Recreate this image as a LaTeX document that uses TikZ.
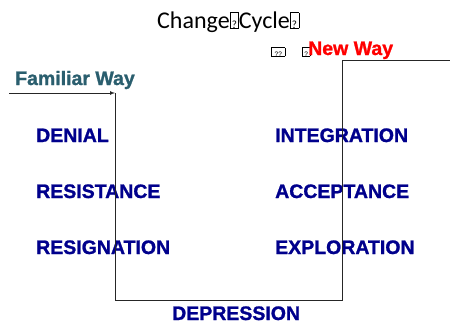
\documentclass[tikz,border=0pt]{standalone}
\usepackage{fontspec}
\setmainfont{Liberation Sans}
\newfontfamily\titlefont{Carlito}
\newfontfamily\heavyfont{Liberation Sans Bold}[FakeBold=1.2]
\definecolor{stagenavy}{RGB}{0,0,140}
\definecolor{oldteal}{RGB}{42,94,110}
\newcommand{\qmark}[4][?]{{\setlength{\fboxsep}{0pt}\setlength{\fboxrule}{0.6pt}\fbox{\makebox[#2]{\rule{0pt}{#3}\fontsize{#4}{#4}\selectfont #1}}}}
\tikzset{
  stage/.style={anchor=base west,inner sep=0pt,text=stagenavy,font=\heavyfont\fontsize{19.5}{22}\selectfont},
  way/.style={anchor=base west,inner sep=0pt,font=\heavyfont\fontsize{19.5}{22}\selectfont}
}
\begin{document}
\begin{tikzpicture}[x=1pt,y=-1pt,>=latex]
	\useasboundingbox (0,0) rectangle (450,324);
	\node[anchor=base west,inner sep=0pt,font=\titlefont\fontsize{24}{28}\selectfont] (title) at (157,28) {Change\qmark{8pt}{15pt}{11pt}Cycle\qmark{8pt}{15pt}{11pt}};
	\node[way,text=oldteal] (familiar) at (15,85) {Familiar Way};
	\node[anchor=base west,inner sep=0pt] (marks) at (271,56) {\qmark[??]{13pt}{8pt}{6.5pt}};
	\node[anchor=base west,inner sep=0pt] (mark) at (302,56) {\qmark{7pt}{8pt}{6.5pt}};
	\node[way,text=red] (newway) at (308,55) {New Way};
	\node[stage] (denial) at (36,142) {DENIAL};
	\node[stage] (resistance) at (36,198) {RESISTANCE};
	\node[stage] (resignation) at (36,254) {RESIGNATION};
	\node[stage] (integration) at (275,142) {INTEGRATION};
	\node[stage] (acceptance) at (275,198) {ACCEPTANCE};
	\node[stage] (exploration) at (275,254) {EXPLORATION};
	\node[stage] (depression) at (172,320) {DEPRESSION};
	\coordinate (start) at (9,93);
	\coordinate (drop) at (115,93);
	\coordinate (low) at (115,300);
	\coordinate (rise) at (342,300);
	\coordinate (high) at (342,60);
	\coordinate (end) at (450,60);
	\draw[->,black!85,line width=0.7pt] (start) -- (drop);
	\draw[black!85,line width=0.7pt] (drop) -- (low) -- (rise) -- (high) -- (end);
\end{tikzpicture}
\end{document}
